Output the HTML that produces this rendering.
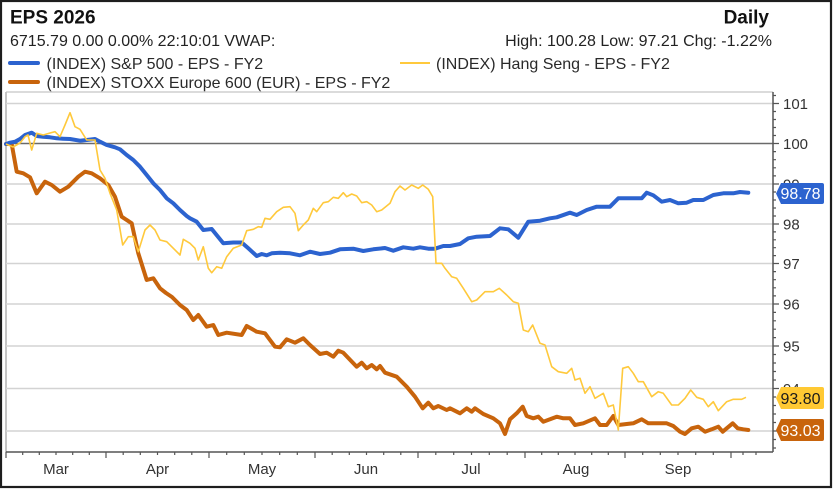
<!DOCTYPE html>
<html>
<head>
<meta charset="utf-8">
<style>
  html, body { margin: 0; padding: 0; background: #fff; }
  .wrap { position: relative; width: 833px; height: 489px; overflow: hidden; }
  svg { display: block; }
  text { font-family: "Liberation Sans", Arial, sans-serif; }
</style>
</head>
<body>
<div class="wrap">
<svg width="833" height="489" viewBox="0 0 833 489" xmlns="http://www.w3.org/2000/svg">
  <rect x="0" y="0" width="833" height="489" fill="#ffffff"/>
  <!-- outer frame -->
  <rect x="1" y="1" width="830" height="486" fill="none" stroke="#1e1e1e" stroke-width="2.2"/>

  <!-- header -->
  <text x="10" y="23.5" font-size="19" font-weight="bold" fill="#111">EPS 2026</text>
  <text x="769" y="23.5" font-size="19" font-weight="bold" fill="#111" text-anchor="end">Daily</text>
  <text x="10" y="46" font-size="16" fill="#222">6715.79 0.00 0.00% 22:10:01 VWAP:</text>
  <text x="772" y="46" font-size="16" fill="#222" text-anchor="end">High: 100.28 Low: 97.21 Chg: -1.22%</text>

  <!-- legend -->
  <line x1="10" y1="63" x2="38" y2="63" stroke="#2c63cf" stroke-width="4" stroke-linecap="round"/>
  <text x="46.5" y="69" font-size="16" fill="#2a2a2a">(INDEX) S&amp;P 500 - EPS - FY2</text>
  <line x1="400" y1="63" x2="430" y2="63" stroke="#ffc93c" stroke-width="2"/>
  <text x="436" y="69" font-size="16" fill="#2a2a2a">(INDEX) Hang Seng - EPS - FY2</text>
  <line x1="10" y1="82" x2="38" y2="82" stroke="#c8640c" stroke-width="4" stroke-linecap="round"/>
  <text x="46.5" y="88" font-size="16" fill="#2a2a2a">(INDEX) STOXX Europe 600 (EUR) - EPS - FY2</text>

  <!-- plot frame -->
  <line x1="6" y1="92" x2="773" y2="92" stroke="#cfcfcf" stroke-width="1.5"/>
  <line x1="6" y1="92" x2="6" y2="452" stroke="#bdbdbd" stroke-width="1.8"/>

  <!-- gridlines -->
  <g stroke="#d3d3d3" stroke-width="1.5">
    <line x1="6" y1="103.5" x2="773" y2="103.5"/>
    <line x1="6" y1="184" x2="773" y2="184"/>
    <line x1="6" y1="224" x2="773" y2="224"/>
    <line x1="6" y1="263.5" x2="773" y2="263.5"/>
    <line x1="6" y1="304" x2="773" y2="304"/>
    <line x1="6" y1="346" x2="773" y2="346"/>
    <line x1="6" y1="388.5" x2="773" y2="388.5"/>
    <line x1="6" y1="431" x2="773" y2="431"/>
  </g>
  <line x1="6" y1="143.5" x2="773" y2="143.5" stroke="#6a6a6a" stroke-width="1.6"/>

  <!-- axes -->
  <line x1="773" y1="92" x2="773" y2="452" stroke="#555" stroke-width="1.5"/>
  <line x1="6" y1="452" x2="773" y2="452" stroke="#555" stroke-width="1.5"/>

  <!-- right axis ticks -->
  <path stroke="#555" stroke-width="1.2" fill="none" d="
    M773 103.5h6 M773 143.5h6 M773 184h6 M773 224h6 M773 263.5h6 M773 304h6 M773 346h6 M773 388.5h6 M773 431h6
    M773 95.5h3 M773 111.5h3 M773 119.5h3 M773 127.5h3 M773 135.5h3
    M773 151.6h3 M773 159.7h3 M773 167.8h3 M773 175.9h3
    M773 192h3 M773 200h3 M773 208h3 M773 216h3
    M773 231.9h3 M773 239.8h3 M773 247.7h3 M773 255.6h3
    M773 271.6h3 M773 279.7h3 M773 287.8h3 M773 295.9h3
    M773 312.4h3 M773 320.8h3 M773 329.2h3 M773 337.6h3
    M773 354.5h3 M773 363h3 M773 371.5h3 M773 380h3
    M773 397h3 M773 405.5h3 M773 414h3 M773 422.5h3
    M773 439.5h3 M773 448h3"/>

  <!-- bottom axis ticks -->
  <path stroke="#555" stroke-width="1.2" fill="none" d="
    M6 452v6 M106 452v6 M209 452v6 M315 452v6 M418 452v6 M525 452v6 M625 452v6 M731 452v6
    M22.7 452v3 M39.3 452v3 M56 452v3 M72.7 452v3 M89.3 452v3
    M123.2 452v3 M140.3 452v3 M157.5 452v3 M174.7 452v3 M191.8 452v3
    M226.7 452v3 M244.3 452v3 M262 452v3 M279.7 452v3 M297.3 452v3
    M332.2 452v3 M349.3 452v3 M366.5 452v3 M383.7 452v3 M400.8 452v3
    M435.8 452v3 M453.7 452v3 M471.5 452v3 M489.3 452v3 M507.2 452v3
    M541.7 452v3 M558.3 452v3 M575 452v3 M591.7 452v3 M608.3 452v3
    M642.7 452v3 M660.3 452v3 M678 452v3 M695.7 452v3 M713.3 452v3
    M743 452v3 M756 452v3"/>

  <!-- x labels -->
  <g font-size="15" fill="#333" text-anchor="middle">
    <text x="56" y="474">Mar</text>
    <text x="157.5" y="474">Apr</text>
    <text x="262" y="474">May</text>
    <text x="366" y="474">Jun</text>
    <text x="471" y="474">Jul</text>
    <text x="576" y="474">Aug</text>
    <text x="678" y="474">Sep</text>
  </g>

  <!-- y labels -->
  <g font-size="15" fill="#333">
    <text x="783" y="108.8">101</text>
    <text x="783" y="148.8">100</text>
    <text x="783" y="189.3">99</text>
    <text x="783" y="229.3">98</text>
    <text x="783" y="268.8">97</text>
    <text x="783" y="309.3">96</text>
    <text x="783" y="351.3">95</text>
    <text x="783" y="393.8">94</text>
    <text x="783" y="436.3">93</text>
  </g>

  <!-- STOXX (orange) -->
  <polyline fill="none" stroke="#c8640c" stroke-width="4" stroke-linejoin="round" stroke-linecap="round" points="
    6,144 11.7,144 16.7,171.7 23.3,173.3 30,177.3 36.7,193.3 45,181.7 51.7,185 60,191.7 68.3,186.7 78.3,176.7 85,171.7 91.7,173.3 100,178.3 108.3,185 115,196.7 121.7,216.7 131.7,223.3 138.3,253.3 146.7,280 153.3,278.3 160,288.3 166,293 172,297 180,305 186.7,310 193.3,320 198.3,315 206.7,326.7 213.3,325 218.3,335 226.7,332.7 241.7,335 246.7,326 256.7,331.7 265,333.3 275,346.7 280,347.3 286.7,339.3 295,342.7 303.3,338.3 310,345 320,354 326.7,352.7 333.3,356.7 338.3,350.7 343.3,352.7 356.7,366.7 361.7,362.7 366.7,368.3 371.7,365 376.7,369.3 380,366 385,372.7 396.7,376.7 406.7,386.7 415,396.7 422.7,408.3 428.3,402.7 433.3,408.3 438.3,406 446.7,410 450,408.3 460,413.3 466.7,408.3 471.7,411.7 475,408.3 483.3,414 493.3,418.3 500,423.3 505,434 510,419.3 516.7,413.3 522.7,406.7 526.7,416 533.3,418.3 538.3,416.7 543.3,421.7 550,419.3 556.7,416.7 563.3,418.3 570,418.3 575,425 583.3,423.3 595,418.3 600,425 606.7,425 613.3,416 618.3,425 626.7,424 633.3,423.3 641.7,419.3 648.3,423.3 660,423.3 666.7,423.3 673.3,426 680,431.7 685,434 691.7,428.3 698.3,426.7 705,431.7 711.7,429.3 718.3,426.7 722.7,431.7 726.7,428.3 732.7,423.3 737.7,428.3 743.3,429.3 748.3,430"/>

  <!-- S&P 500 (blue) -->
  <polyline fill="none" stroke="#2c63cf" stroke-width="4" stroke-linejoin="round" stroke-linecap="round" points="
    6,144 10,142.7 15,141.7 20,139 25,135 31.7,132.7 36.7,136 43,136.7 50,137.3 56.7,138.3 63,138.7 70,139 80,140.7 86.7,140 95,139 100,141.7 106.7,145 115,147.3 120,149.3 126.7,155 133.3,160 140,166.7 146.7,175 153.3,183.3 160,190 166.7,198.3 173.3,203.3 180,210 186.7,216 190,218.3 196.7,221.7 203.3,230 211.7,229 223.3,243.3 233.3,242.5 241.7,242.5 248.3,248.3 256.7,256 261.7,254 266.7,255.3 271.7,253.3 280,252.7 290,253.3 300,255.3 310,251.7 320,254 330,252.7 340,249.3 353.3,248.7 363.3,251 373.3,249.3 385,248 393.3,250.7 403.3,247.3 413.3,248.7 420,247.3 428.3,248.7 435,248.7 443.3,246 450,246 460,244 468.3,238.3 476.7,236.7 490,236 500,228.3 508.3,229.3 518.3,237.7 528.3,221.7 540,220.7 550,218.3 556.7,217.3 570,212.7 576.7,215 586.7,210 596.7,206.7 610,206.7 618.3,198.3 641.7,198.3 646.7,192.7 653.3,195.3 661.7,201.7 670,200 678.3,203.3 686.7,202.7 693.3,200 703.3,200 713.3,195 723.3,193.3 733.3,193.3 740,192 748.3,192.7"/>

  <!-- Hang Seng (yellow) -->
  <polyline fill="none" stroke="#ffc93c" stroke-width="1.6" stroke-linejoin="round" points="
    6,144 13,147 20,143 25,136.7 28,135 31.7,150 36.7,133.3 43.3,135 50,133 55,131.7 60,136.7 65,125 70,112.7 75,126.7 80,129.3 86.7,140 95,140 100,170 105,178.3 110,193.3 116.7,210 122.7,245 128.3,236.7 133.3,236.7 138.3,251.7 145,230 150,225 155,230 160,240 166.7,241.7 171.7,246.7 180,255 183.3,239.3 190,243.3 195,248.3 198.3,260 203.3,246.7 208.3,268.3 211.7,272.7 216.7,266.7 221.7,268.3 226.7,256.7 233.3,248.3 241.7,245 246.7,230.7 253.3,229.3 258.3,226.7 261.7,227.3 265,218.3 270,219.3 276.7,211.7 283.3,207.3 290,206.7 295,213.3 298.3,230.7 303.3,225 308.3,220 313.3,208.3 316.7,211.7 323.3,202.7 328.3,201.7 333.3,197.3 338.3,198.3 343.3,192.7 346.7,196.7 351.7,194 356.7,196 361.7,202.7 366.7,201.7 371.7,205 376.7,211.7 381.7,210 390,203.3 395,191.7 400,186 405,190 411.7,185 418.3,188.3 422.7,185 428.3,189.3 432.7,196.7 436,263.3 441.7,263.3 445,268.3 451.7,276.7 456.7,278.3 463.3,288.3 471.7,301.7 476.7,300 485,291.7 493.3,291.7 499.3,288.3 506.7,295 513.3,301.7 518.3,303.3 523.3,330 528.3,331.7 532.7,325 540,343.3 545,345 551.7,366.7 558.3,371.7 566.7,373.3 571.7,368.3 575,380 580,378.3 585,393.3 590,386.7 595,398.3 603.3,393.3 608.3,406.7 613.3,405 618.3,430 622.7,368.3 628.3,366.7 633.3,373.3 638.3,381.7 643.3,381.7 651.7,396.7 658.3,391.7 663.3,393.3 671.7,405 678.3,405 685,398.3 690.7,390 696.7,397.3 703.3,399.3 708.3,406.7 713.3,401.7 718.3,410.7 726.7,401.7 733.3,399.3 741.7,399.3 746,397.3"/>

  <!-- value tags -->
  <path d="M776,193.5 L781,183 H822 Q824,183 824,185 V202 Q824,204 822,204 H781 Z" fill="#2c63cf"/>
  <text x="800.5" y="199.2" font-size="16" fill="#ffffff" text-anchor="middle">98.78</text>

  <path d="M776,398 L781,387 H822 Q824,387 824,389 V407 Q824,409 822,409 H781 Z" fill="#ffc933"/>
  <text x="800.5" y="403.8" font-size="16" fill="#1a1a1a" text-anchor="middle">93.80</text>

  <path d="M776,430 L781,419 H822 Q824,419 824,421 V439 Q824,441 822,441 H781 Z" fill="#c8640c"/>
  <text x="800.5" y="435.8" font-size="16" fill="#ffffff" text-anchor="middle">93.03</text>
</svg>
</div>
</body>
</html>
